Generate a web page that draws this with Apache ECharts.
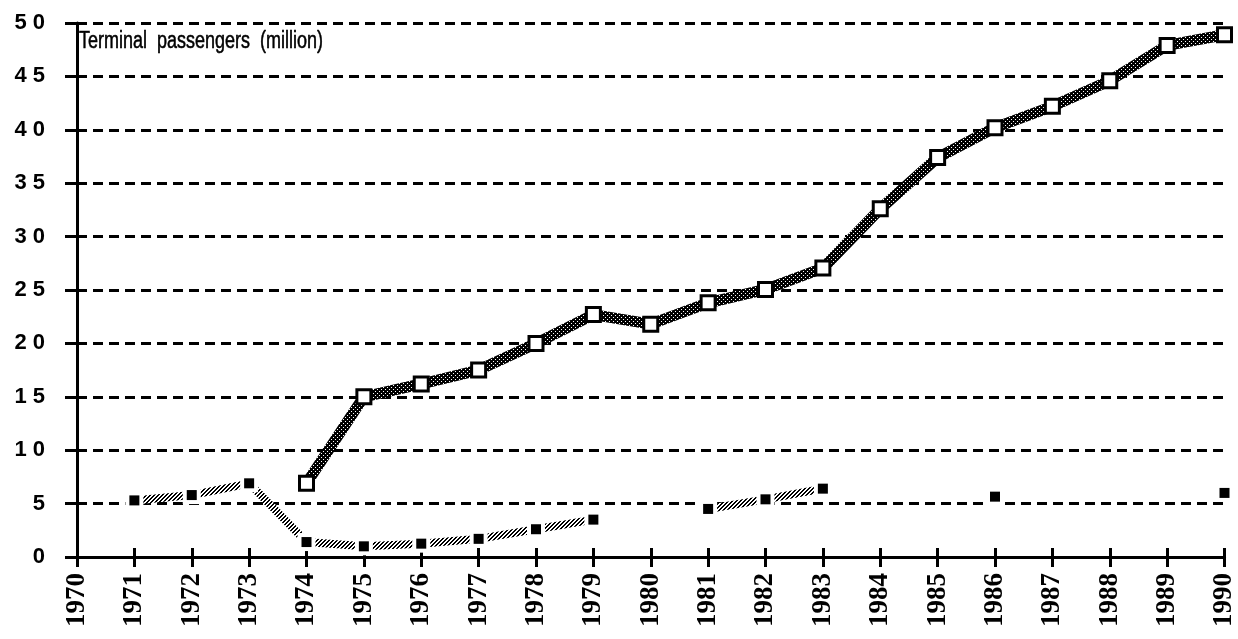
<!DOCTYPE html>
<html>
<head>
<meta charset="utf-8">
<script src="https://cdn.jsdelivr.net/npm/echarts@6/dist/echarts.min.js"></script>
<style>
  html, body { margin: 0; padding: 0; background: #fff; }
  #chart { width: 1238px; height: 639px; }
</style>
</head>
<body>
<div id="chart"></div>
<script>
// Years on the horizontal axis
const years = ['1970','1971','1972','1973','1974','1975','1976','1977','1978','1979','1980',
               '1981','1982','1983','1984','1985','1986','1987','1988','1989','1990'];
// Terminal passengers, million (open squares), from 1974
const mainAirport = [null, null, null, null, 6.9, 15.0, 16.2, 17.5, 20.0, 22.7, 21.8,
                     23.8, 25.05, 27.05, 32.6, 37.4, 40.2, 42.2, 44.6, 47.9, 48.9];
// Terminal passengers, million (filled squares), gaps where no figure
const secondAirport = [null, 5.3, 5.8, 6.9, 1.4, 1.0, 1.25, 1.7, 2.6, 3.5, null,
                       4.5, 5.4, 6.4, null, null, 5.65, null, null, null, 6.0];
const yTicks = [0, 5, 10, 15, 20, 25, 30, 35, 40, 45, 50];
const titleText = 'Terminal  passengers  (million)';

// Pixel textures for the thick lines
function texture(size, isDark) {
  const c = document.createElement('canvas');
  c.width = size; c.height = size;
  const g = c.getContext('2d');
  const img = g.createImageData(size, size);
  for (let y = 0; y < size; y++) {
    for (let x = 0; x < size; x++) {
      const v = isDark(x, y) ? 0 : 255;
      const i = (y * size + x) * 4;
      img.data[i] = img.data[i + 1] = img.data[i + 2] = v;
      img.data[i + 3] = 255;
    }
  }
  g.putImageData(img, 0, 0);
  return { image: c, repeat: 'repeat' };
}
// dense dark stipple: black with scattered white dots
const darkTexture = texture(4, (x, y) => !((x === 1 && y === 1) || (x === 3 && y === 3)));
// lighter diagonal hatch
const lightTexture = texture(4, (x, y) => ((x + y) % 4) < 2);

const chart = echarts.init(document.getElementById('chart'), null, { renderer: 'canvas' });

chart.setOption({
  animation: false,
  backgroundColor: '#fff',
  grid: { left: 77, right: 12, top: 23, bottom: 82, containLabel: false },
  graphic: [{
    type: 'text', x: 79, y: 29, z: 10, scaleY: 1.35,
    style: { text: titleText, fill: '#000', font: '18px "Liberation Sans", Arial, sans-serif',
             textVerticalAlign: 'top', stroke: '#000', lineWidth: 0.4 }
  }],
  xAxis: [{
    type: 'category', data: years, boundaryGap: false,
    axisLine: { show: true, lineStyle: { color: '#000', width: 3 } },
    axisTick: { show: true, length: 10, lineStyle: { color: '#000', width: 3 } },
    axisLabel: {
      rotate: 90, margin: 16, color: '#000', interval: 0, fontWeight: 'bold',
      fontFamily: '"Liberation Serif", "Times New Roman", serif', fontSize: 27
    },
    splitLine: { show: false }
  }, {
    // upward half of the crossing tick marks
    type: 'category', data: years, boundaryGap: false, position: 'bottom',
    axisLine: { show: false },
    axisTick: { show: true, inside: true, length: 9, lineStyle: { color: '#000', width: 3 } },
    axisLabel: { show: false }
  }],
  yAxis: {
    type: 'value', min: 0, max: 50, interval: 5,
    axisLine: { show: true, lineStyle: { color: '#000', width: 3 } },
    axisTick: { show: true, length: 12, lineStyle: { color: '#000', width: 3 } },
    axisLabel: {
      margin: 32, color: '#000', fontWeight: 'bold', fontSize: 22,
      fontFamily: '"Liberation Sans", Arial, sans-serif',
      formatter: v => String(v).split('').join(' ')
    },
    splitLine: { show: true, lineStyle: { color: '#000', width: 3, type: [10, 6] } }
  },
  series: [{
    // hatched segments; white squares keep them clear of the markers
    type: 'line', name: 'secondaryLine', data: secondAirport, connectNulls: false,
    symbol: 'rect', symbolSize: 18, showSymbol: true, z: 3,
    lineStyle: { width: 8, color: lightTexture },
    itemStyle: { color: '#fff', borderWidth: 0 }
  }, {
    type: 'line', name: 'secondary', data: secondAirport, connectNulls: false,
    symbol: 'rect', symbolSize: 10, showSymbol: true, z: 4,
    lineStyle: { width: 0, opacity: 0 },
    itemStyle: { color: '#000', borderWidth: 0 }
  }, {
    type: 'line', name: 'main', data: mainAirport, connectNulls: false,
    symbol: 'rect', symbolSize: 14, showSymbol: true, z: 5,
    lineStyle: { width: 11, color: darkTexture },
    itemStyle: { color: '#fff', borderColor: '#000', borderWidth: 3 }
  }]
});
</script>
</body>
</html>
